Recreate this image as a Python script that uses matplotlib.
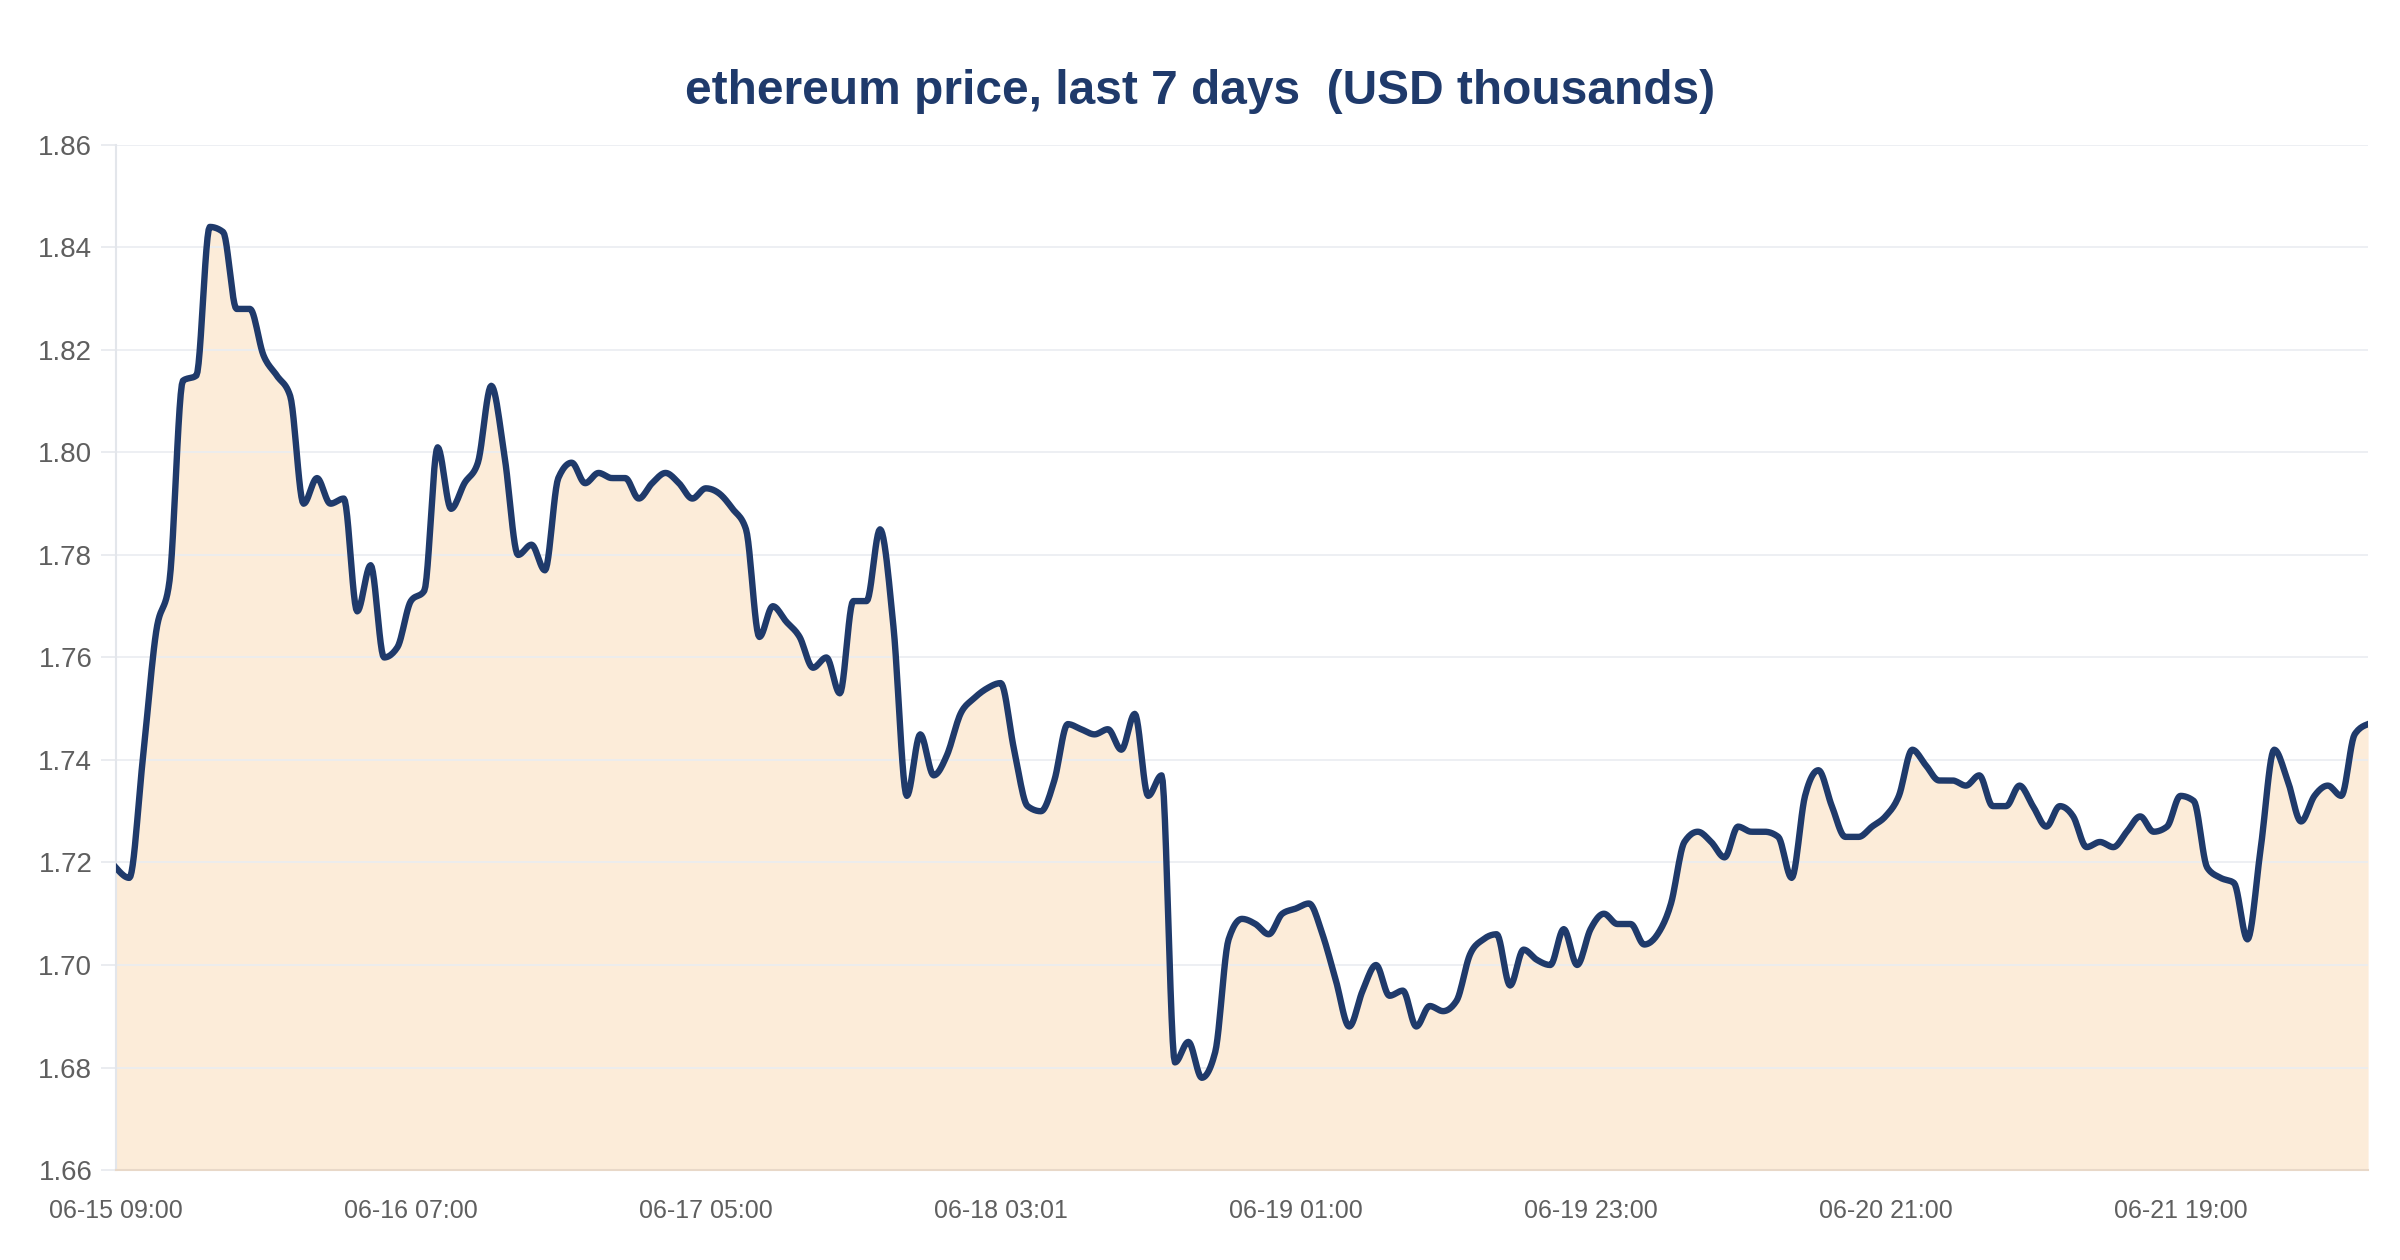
import numpy as np
import matplotlib
matplotlib.use('Agg')
import matplotlib.pyplot as plt

# hourly ethereum price (USD thousands)
prices = [
    1.719, 1.717, 1.740, 1.765, 1.775, 1.814, 1.815, 1.844, 1.843, 1.828,
    1.828, 1.819, 1.815, 1.811, 1.790, 1.795, 1.790, 1.791, 1.769, 1.778,
    1.760, 1.762, 1.771, 1.773, 1.801, 1.789, 1.794, 1.798, 1.813, 1.799,
    1.780, 1.782, 1.777, 1.795, 1.798, 1.794, 1.796, 1.795, 1.795, 1.791,
    1.794, 1.796, 1.794, 1.791, 1.793, 1.792, 1.789, 1.785, 1.764, 1.770,
    1.767, 1.764, 1.758, 1.760, 1.753, 1.771, 1.771, 1.785, 1.766, 1.733,
    1.745, 1.737, 1.741, 1.749, 1.752, 1.754, 1.755, 1.742, 1.731, 1.730,
    1.736, 1.747, 1.746, 1.745, 1.746, 1.742, 1.749, 1.733, 1.737, 1.681,
    1.685, 1.678, 1.683, 1.705, 1.709, 1.708, 1.706, 1.710, 1.711, 1.712,
    1.706, 1.697, 1.688, 1.695, 1.700, 1.694, 1.695, 1.688, 1.692, 1.691,
    1.693, 1.702, 1.705, 1.706, 1.696, 1.703, 1.701, 1.700, 1.707, 1.700,
    1.707, 1.710, 1.708, 1.708, 1.704, 1.706, 1.712, 1.724, 1.726, 1.724,
    1.721, 1.727, 1.726, 1.726, 1.725, 1.717, 1.733, 1.738, 1.731, 1.725,
    1.725, 1.727, 1.729, 1.733, 1.742, 1.739, 1.736, 1.736, 1.735, 1.737,
    1.731, 1.731, 1.735, 1.731, 1.727, 1.731, 1.729, 1.723, 1.724, 1.723,
    1.726, 1.729, 1.726, 1.727, 1.733, 1.732, 1.719, 1.717, 1.716, 1.705,
    1.723, 1.742, 1.736, 1.728, 1.733, 1.735, 1.733, 1.745, 1.747,
]
hours = np.arange(len(prices))

tick_hours = [0, 22, 44, 66, 88, 110, 132, 154]
tick_labels = ['06-15 09:00', '06-16 07:00', '06-17 05:00', '06-18 03:01',
               '06-19 01:00', '06-19 23:00', '06-20 21:00', '06-21 19:00']

title = 'ethereum price, last 7 days  (USD thousands)'


def monotone_curve(x, y, n=12):
    # monotone cubic (like d3 curveMonotoneX) for a smooth drawn line
    x = np.asarray(x, float)
    y = np.asarray(y, float)
    h = np.diff(x)
    s = np.diff(y) / h
    t = np.zeros_like(y)
    for i in range(1, len(y) - 1):
        p = (s[i - 1] * h[i] + s[i] * h[i - 1]) / (h[i - 1] + h[i])
        t[i] = (np.sign(s[i - 1]) + np.sign(s[i])) * min(abs(s[i - 1]), abs(s[i]), 0.5 * abs(p))
    t[0] = (3 * s[0] - t[1]) / 2
    t[-1] = (3 * s[-1] - t[-2]) / 2
    xs, ys = [], []
    u = np.linspace(0, 1, n, endpoint=False)
    for i in range(len(h)):
        h00 = 2 * u**3 - 3 * u**2 + 1
        h10 = u**3 - 2 * u**2 + u
        h01 = -2 * u**3 + 3 * u**2
        h11 = u**3 - u**2
        xs.append(x[i] + u * h[i])
        ys.append(h00 * y[i] + h10 * h[i] * t[i] + h01 * y[i + 1] + h11 * h[i] * t[i + 1])
    xs.append([x[-1]])
    ys.append([y[-1]])
    return np.concatenate(xs), np.concatenate(ys)


plt.rcParams['font.family'] = ['Liberation Sans', 'DejaVu Sans']

fig = plt.figure(figsize=(24, 12.6), dpi=100)
ax = fig.add_axes([0.0483, 0.0714, 0.9384, 0.8136])

cx, cy = monotone_curve(hours, prices)
ax.fill_between(cx, cy, 1.66, color='#fcecd9', linewidth=0, zorder=1)
ax.plot(cx, cy, color='#1f3a6b', linewidth=4.6, zorder=3)

ax.set_xlim(0, hours[-1])
ax.set_ylim(1.66, 1.86)
ax.set_yticks(np.arange(1.66, 1.8601, 0.02))
ax.set_yticklabels([f'{v:.2f}' for v in np.arange(1.66, 1.8601, 0.02)])
ax.set_xticks(tick_hours)
ax.set_xticklabels(tick_labels, family=['Liberation Sans Narrow', 'Liberation Sans'])

ax.grid(axis='y', color='#e9ecf1', linewidth=1.3, alpha=0.9)
ax.tick_params(axis='y', length=11, width=1.2, color='#e6e9ee', labelsize=20,
               labelcolor='#5f5f5f', pad=6)
ax.tick_params(axis='x', length=0, labelsize=18, labelcolor='#5f5f5f', pad=21)

for side in ['top', 'right']:
    ax.spines[side].set_visible(False)
ax.spines['left'].set_color('#e3e6eb')
ax.spines['left'].set_linewidth(1.5)
ax.spines['bottom'].set_color('#e8d8c8')
ax.spines['bottom'].set_linewidth(1.5)

fig.text(0.5, 0.927, title, ha='center', va='center', fontsize=34.5,
         fontweight='bold', color='#1f3a6b')

fig.savefig('out.png', dpi=100, facecolor='white')
